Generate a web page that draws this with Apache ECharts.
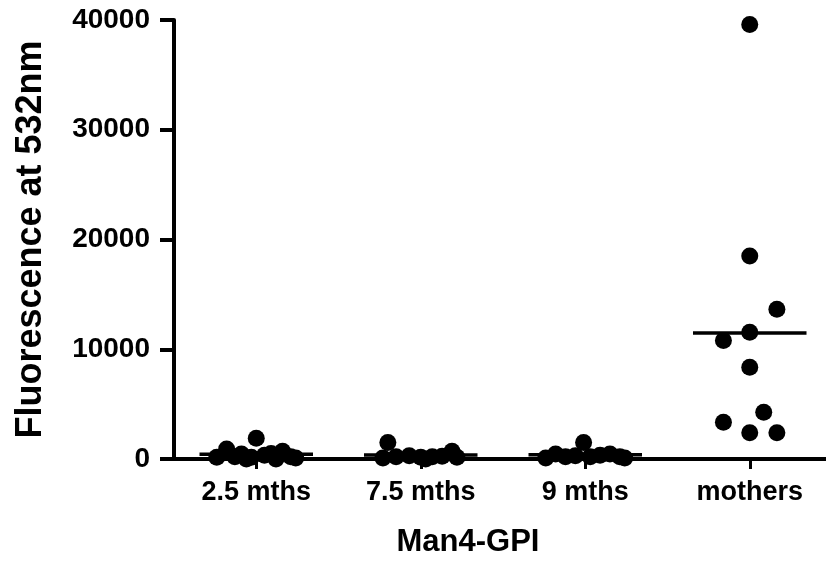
<!DOCTYPE html>
<html>
<head>
<meta charset="utf-8">
<script src="https://cdn.jsdelivr.net/npm/echarts@6/dist/echarts.min.js"></script>
<style>
  html, body { margin: 0; padding: 0; background: #fff; }
  #chart { width: 826px; height: 564px; }
</style>
</head>
<body>
<div id="chart"></div>
<script>
(function(){
  // 分组和数据
  var categories = ['2.5 mths', '7.5 mths', '9 mths', 'mothers'];
  var yTicks = [0, 10000, 20000, 30000, 40000];

  var values25 = [150, 900, 200, 450, 150, 1900, 350, 500, 700, 200, 100, 0, 0];
  var values75 = [100, 1500, 200, 300, 150, 0, 200, 250, 700, 150];
  var values9 = [100, 450, 200, 300, 1500, 200, 350, 450, 200, 100];
  var valuesMothers = [39600, 18500, 13650, 11550, 10800, 8350, 4250, 3350, 2400, 2400];

  // 点的水平错开（类目宽度的比例）
  var jitter25 = [-0.24, -0.18, -0.13, -0.09, -0.03, 0, 0.05, 0.09, 0.16, 0.21, 0.24, 0.12, -0.06];
  var jitter75 = [-0.23, -0.2, -0.15, -0.07, 0, 0.03, 0.07, 0.13, 0.19, 0.22];
  var jitter9 = [-0.24, -0.18, -0.12, -0.06, -0.01, 0.03, 0.09, 0.15, 0.21, 0.24];
  var jitterMothers = [0, 0, 0.165, 0, -0.16, 0, 0.085, -0.16, 0, 0.165];

  var groups = [
    { v: values25, j: jitter25 },
    { v: values75, j: jitter75 },
    { v: values9, j: jitter9 },
    { v: valuesMothers, j: jitterMothers }
  ];

  var dots = [];
  var series = [];
  groups.forEach(function(g, i){
    var sum = 0;
    g.v.forEach(function(val, k){
      dots.push([i + 0.5 + g.j[k], val]);
      sum += val;
    });
    // 均值线
    var mean = sum / g.v.length;
    series.push({
      type: 'line',
      xAxisIndex: 1,
      symbol: 'none',
      lineStyle: { color: '#000', width: 3.5 },
      data: [[i + 0.5 - 0.345, mean], [i + 0.5 + 0.345, mean]],
      z: 3
    });
  });

  series.unshift({
    type: 'scatter',
    xAxisIndex: 1,
    symbol: 'circle',
    symbolSize: 17,
    itemStyle: { color: '#000', opacity: 1 },
    data: dots,
    z: 4
  });

  var myChart = echarts.init(document.getElementById('chart'));

  var font = 'Liberation Sans, Arial, sans-serif';

  var option = {
    animation: false,
    grid: {
      left: 174,
      right: -6,
      top: 20,
      bottom: 105,
      containLabel: false,
      outerBoundsMode: 'none'
    },
    xAxis: [
      {
        type: 'category',
        data: categories,
        boundaryGap: true,
        name: 'Man4-GPI',
        nameLocation: 'middle',
        nameGap: 68,
        nameTextStyle: {
          color: '#000',
          fontFamily: font,
          fontWeight: 'bold',
          fontSize: 31,
          padding: [0, 70, 0, 0]
        },
        axisLine: { show: true, onZero: false, lineStyle: { color: '#000', width: 4 } },
        axisTick: { show: true, alignWithLabel: true, length: 10, lineStyle: { color: '#000', width: 3 } },
        axisLabel: {
          color: '#000',
          fontFamily: font,
          fontWeight: 'bold',
          fontSize: 27,
          margin: 20
        },
        splitLine: { show: false }
      },
      {
        type: 'value',
        min: 0,
        max: categories.length,
        show: false
      }
    ],
    yAxis: {
      type: 'value',
      min: yTicks[0],
      max: yTicks[yTicks.length - 1],
      interval: yTicks[1] - yTicks[0],
      name: 'Fluorescence at 532nm',
      nameLocation: 'middle',
      nameGap: 125,
      nameRotate: 90,
      nameTextStyle: {
        color: '#000',
        fontFamily: font,
        fontWeight: 'bold',
        fontSize: 36
      },
      axisLine: { show: true, lineStyle: { color: '#000', width: 4 } },
      axisTick: { show: true, length: 14, lineStyle: { color: '#000', width: 4 } },
      axisLabel: {
        color: '#000',
        fontFamily: font,
        fontWeight: 'bold',
        fontSize: 28,
        margin: 24,
        formatter: function(v){ return String(v); }
      },
      splitLine: { show: false }
    },
    series: series
  };

  myChart.setOption(option);

  window.addEventListener('resize', function(){
    myChart.resize();
  });
})();
</script>
</body>
</html>
